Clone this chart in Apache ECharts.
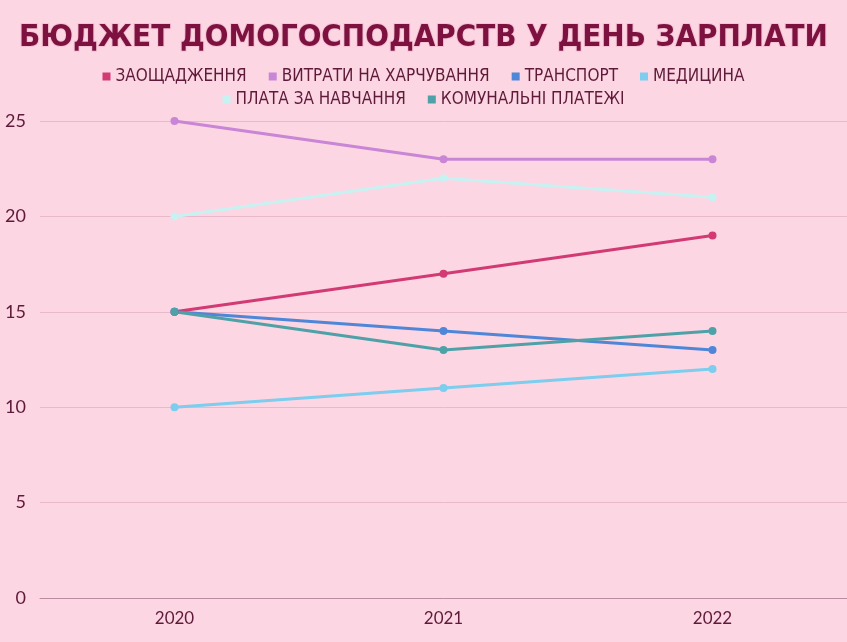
<!DOCTYPE html>
<html>
<head>
<meta charset="utf-8">
<script src="https://cdn.jsdelivr.net/npm/echarts@6/dist/echarts.min.js"></script>
<style>
  html, body { margin: 0; padding: 0; background: #fdd6e3; }
  #chart { width: 847px; height: 642px; }
</style>
</head>
<body>
<div id="chart"></div>
<script>
// дані з картинки
var years = ['2020', '2021', '2022'];
var savings = [15, 17, 19];
var food = [25, 23, 23];
var transport = [15, 14, 13];
var medicine = [10, 11, 12];
var tuition = [20, 22, 21];
var utilities = [15, 13, 14];
var yTicks = [0, 5, 10, 15, 20, 25];

var names = ['ЗАОЩАДЖЕННЯ', 'ВИТРАТИ НА ХАРЧУВАННЯ', 'ТРАНСПОРТ', 'МЕДИЦИНА', 'ПЛАТА ЗА НАВЧАННЯ', 'КОМУНАЛЬНІ ПЛАТЕЖІ'];
var colors = ['#d23a74', '#c985d6', '#4f86d8', '#7ccdee', '#c8f1f1', '#4fa1a8'];
var values = [savings, food, transport, medicine, tuition, utilities];

var chart = echarts.init(document.getElementById('chart'));

var legendText = {
  color: '#5e1a38',
  fontSize: 17,
  fontFamily: 'Liberation Sans Narrow, DejaVu Sans Condensed, Noto Sans'
};

var series = [];
for (var i = 0; i < names.length; i++) {
  series.push({
    name: names[i],
    type: 'line',
    data: values[i],
    symbol: 'circle',
    symbolSize: 8,
    lineStyle: { width: 3, color: colors[i] },
    itemStyle: { color: colors[i] }
  });
}

var option = {
  backgroundColor: '#fdd6e3',
  color: colors,
  title: {
    text: 'БЮДЖЕТ ДОМОГОСПОДАРСТВ У ДЕНЬ ЗАРПЛАТИ',
    left: 'center',
    top: 17,
    textStyle: {
      color: '#7d1240',
      fontSize: 31,
      fontWeight: 'bold',
      fontFamily: 'DejaVu Sans Condensed, DejaVu Sans',
      textBorderColor: '#f7c2d4',
      textBorderWidth: 2
    }
  },
  legend: [{
    data: names.slice(0, 4),
    left: 'center',
    top: 63,
    icon: 'rect',
    itemWidth: 8,
    itemHeight: 8,
    itemGap: 22,
    textStyle: legendText
  }, {
    data: names.slice(4),
    left: 'center',
    top: 86,
    icon: 'rect',
    itemWidth: 8,
    itemHeight: 8,
    itemGap: 22,
    textStyle: legendText
  }],
  grid: {
    left: 40,
    right: 0,
    top: 121,
    bottom: 44,
    containLabel: false
  },
  xAxis: {
    type: 'category',
    data: years,
    boundaryGap: true,
    axisTick: { show: false },
    axisLine: { lineStyle: { color: '#b98c9f', width: 1 } },
    axisLabel: {
      color: '#5e1a38',
      fontSize: 17,
      margin: 12,
      fontFamily: 'Lato, Noto Sans'
    }
  },
  yAxis: {
    type: 'value',
    min: yTicks[0],
    max: yTicks[yTicks.length - 1],
    interval: 5,
    axisLine: { show: false },
    axisTick: { show: false },
    splitLine: { lineStyle: { color: '#e9b9ca', width: 1 } },
    axisLabel: {
      color: '#5e1a38',
      fontSize: 18,
      margin: 14,
      fontFamily: 'Lato, Noto Sans'
    }
  },
  series: series
};

chart.setOption(option);
</script>
</body>
</html>
